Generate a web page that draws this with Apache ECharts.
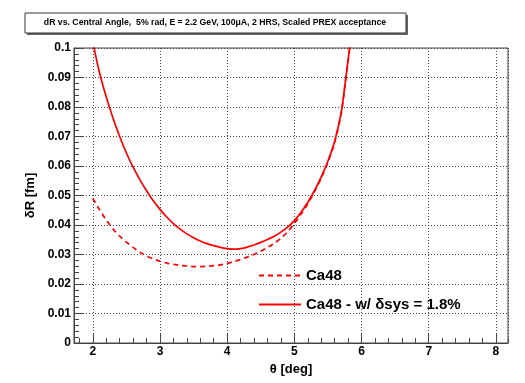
<!DOCTYPE html>
<html>
<head>
<meta charset="utf-8">
<script src="https://cdn.jsdelivr.net/npm/echarts@6/dist/echarts.min.js"></script>
<style>html,body{margin:0;padding:0;background:#fff}#c{width:525px;height:383px}</style>
</head>
<body>
<div id="c"></div>
<script>
// Data
var titleText = 'dR vs. Central Angle,  5% rad, E = 2.2 GeV, 100\u03bcA, 2 HRS, Scaled PREX acceptance';
var seriesNames = ['Ca48', 'Ca48 - w/ \u03b4sys = 1.8%'];
var thetaCa48 = [2.00, 2.10, 2.20, 2.30, 2.40, 2.50, 2.60, 2.70, 2.80, 2.90, 3.00, 3.10, 3.20, 3.30, 3.40, 3.50, 3.60, 3.70, 3.80, 3.90, 4.00, 4.10, 4.20, 4.30, 4.40, 4.50, 4.60, 4.70, 4.80, 4.90, 5.00, 5.10, 5.20, 5.30, 5.40, 5.50, 5.60, 5.70, 5.75, 5.80, 5.83];
var dRCa48    = [0.0490, 0.0452, 0.0417, 0.0387, 0.0362, 0.0342, 0.0324, 0.0308, 0.0295, 0.0285, 0.0277, 0.0271, 0.0267, 0.0263, 0.0261, 0.0259, 0.0259, 0.0260, 0.0262, 0.0265, 0.0270, 0.0276, 0.0283, 0.0291, 0.0300, 0.0311, 0.0324, 0.0338, 0.0355, 0.0377, 0.0405, 0.0437, 0.0472, 0.0513, 0.0559, 0.0613, 0.0680, 0.0781, 0.0866, 0.0956, 0.1012];
var thetaSys  = [2.00, 2.10, 2.20, 2.30, 2.40, 2.50, 2.60, 2.70, 2.80, 2.90, 3.00, 3.10, 3.20, 3.30, 3.40, 3.50, 3.60, 3.70, 3.80, 3.90, 4.00, 4.10, 4.20, 4.30, 4.40, 4.50, 4.60, 4.70, 4.80, 4.90, 5.00, 5.10, 5.20, 5.30, 5.40, 5.50, 5.60, 5.70, 5.75, 5.80, 5.83];
var dRSys     = [0.1020, 0.0916, 0.0834, 0.0763, 0.0700, 0.0644, 0.0596, 0.0554, 0.0516, 0.0482, 0.0453, 0.0427, 0.0405, 0.0386, 0.0370, 0.0357, 0.0346, 0.0337, 0.0330, 0.0324, 0.0320, 0.0318, 0.0320, 0.0325, 0.0332, 0.0341, 0.0351, 0.0362, 0.0376, 0.0393, 0.0415, 0.0443, 0.0477, 0.0517, 0.0563, 0.0617, 0.0684, 0.0785, 0.0870, 0.0960, 0.1015];

function zip(a, b) { return a.map(function (v, i) { return [v, b[i]]; }); }

var chart = echarts.init(document.getElementById('c'), null, {renderer: 'canvas'});
var FONT = 'Liberation Sans, Arial, sans-serif';
var axisCol = '#444';
var gridLine = {show: true, lineStyle: {color: '#444', type: [1, 2], width: 1}};

chart.setOption({
  animation: false,
  backgroundColor: '#fff',
  grid: {left: 74, top: 48, right: 17, bottom: 40, show: true, borderColor: axisCol, borderWidth: 1, backgroundColor: 'transparent'},
  graphic: [
    {type: 'rect', shape: {x: 27, y: 15, width: 381, height: 20}, style: {fill: '#666'}, z: 9},
    {type: 'rect', shape: {x: 25, y: 13, width: 381, height: 20}, style: {fill: '#fff', stroke: '#333', lineWidth: 1}, z: 10},
    {type: 'text', x: 215, y: 23, z: 11, style: {text: titleText, font: 'bold 8.7px ' + FONT, fill: '#000', align: 'center', verticalAlign: 'middle'}}
  ],
  legend: {
    orient: 'vertical', left: 253, top: 263, itemWidth: 42, itemHeight: 14, itemGap: 14,
    textStyle: {fontFamily: FONT, fontWeight: 'bold', fontSize: 15, color: '#000'},
    itemStyle: {opacity: 0},
    data: seriesNames
  },
  xAxis: [{
    type: 'value', min: 1.72, max: 8.18, minInterval: 1, maxInterval: 1,
    name: '\u03b8 [deg]', nameLocation: 'middle', nameGap: 17,
    nameTextStyle: {fontFamily: FONT, fontWeight: 'bold', fontSize: 13, color: '#000'},
    axisLine: {show: true, lineStyle: {color: axisCol, width: 1}},
    axisTick: {show: true, inside: true, length: 10, lineStyle: {color: axisCol}},
    axisLabel: {show: true, showMinLabel: false, showMaxLabel: false, margin: 3, fontFamily: FONT, fontWeight: 'bold', fontSize: 12, color: '#000'},
    splitLine: gridLine
  }, {
    type: 'value', min: 1.72, max: 8.18, minInterval: 0.2, maxInterval: 0.2, position: 'bottom',
    axisLine: {show: false}, axisLabel: {show: false}, splitLine: {show: false},
    axisTick: {show: true, inside: true, length: 5, lineStyle: {color: axisCol}}
  }],
  yAxis: {
    type: 'value', min: 0, max: 0.1, interval: 0.01,
    name: '\u03b4R [fm]', nameLocation: 'middle', nameGap: 27,
    nameTextStyle: {fontFamily: FONT, fontWeight: 'bold', fontSize: 13, color: '#000'},
    axisLine: {show: true, lineStyle: {color: axisCol, width: 1}},
    axisTick: {show: true, inside: true, length: 9, lineStyle: {color: axisCol}},
    minorTick: {show: true, splitNumber: 5, length: 5, lineStyle: {color: axisCol}},
    axisLabel: {margin: 3, fontFamily: FONT, fontWeight: 'bold', fontSize: 12, color: '#000',
      formatter: function (v) { return String(parseFloat(v.toFixed(3))); }},
    splitLine: gridLine
  },
  series: [{
    name: seriesNames[0], type: 'line', data: zip(thetaCa48, dRCa48), showSymbol: false, symbol: 'none',
    smooth: 0.3, clip: true,
    lineStyle: {color: '#ff0000', width: 1.7, type: [5, 4]}, itemStyle: {color: '#ff0000'}, z: 3
  }, {
    name: seriesNames[1], type: 'line', data: zip(thetaSys, dRSys), showSymbol: false, symbol: 'none',
    smooth: 0.3, clip: true,
    lineStyle: {color: '#ff0000', width: 1.7}, itemStyle: {color: '#ff0000'}, z: 4
  }]
});
</script>
</body>
</html>
